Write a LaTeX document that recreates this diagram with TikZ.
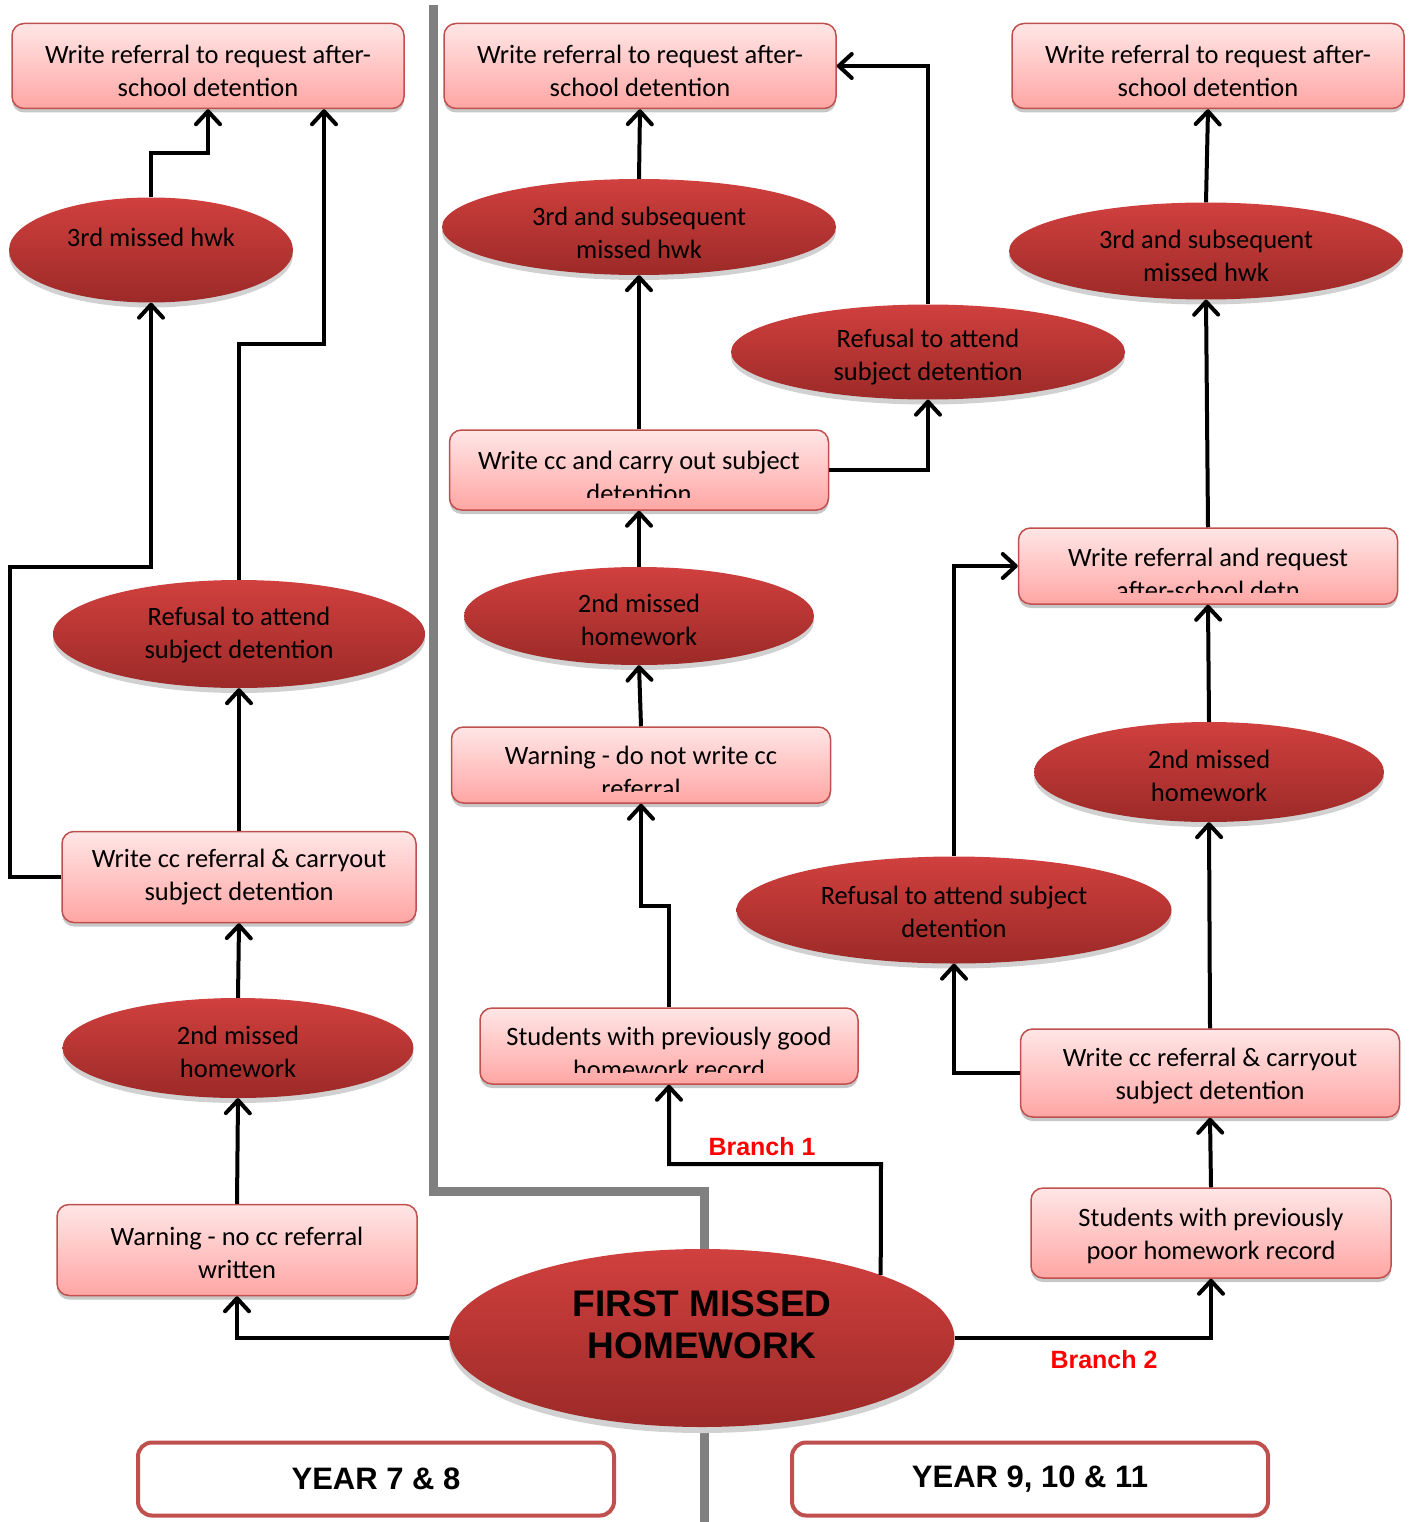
\documentclass[tikz,border=0pt]{standalone}
\usepackage{fontspec}
\setmainfont{Carlito}
\newfontfamily\arialfont{Liberation Sans}
\usetikzlibrary{arrows.meta,shadows,shapes.geometric}
\definecolor{boxtop}{HTML}{FFE6E6}
\definecolor{boxbot}{HTML}{FFA6A4}
\definecolor{boxline}{HTML}{C0504D}
\definecolor{elltop}{HTML}{D0403E}
\definecolor{ellbot}{HTML}{9C2A28}
\definecolor{divider}{HTML}{808080}
\begin{document}
\begin{tikzpicture}[x=1pt,y=-1pt,
  stepbox/.style={draw=boxline, line width=1.5pt, rounded corners=12pt,
    top color=boxtop, bottom color=boxbot, inner sep=0pt,
    drop shadow={shadow xshift=0pt, shadow yshift=-4pt, fill=black!22, opacity=1}},
  boxtext/.style={align=center, inner sep=0pt, font=\fontsize{26.5}{33}\selectfont},
  redell/.style={ellipse, draw=none, top color=elltop, bottom color=ellbot, inner sep=0pt,
    drop shadow={shadow xshift=0pt, shadow yshift=-5pt, fill=black!18, opacity=1}},
  bigtext/.style={align=center, inner sep=0pt, font=\arialfont\bfseries\fontsize{37}{42}\selectfont},
  yearbox/.style={draw=boxline, line width=4pt, rounded corners=14pt, fill=white,
    inner sep=0pt, font=\arialfont\bfseries\fontsize{31}{36}\selectfont},
  conn/.style={line width=4pt, -{Straight Barb[length=13pt,width=24pt,round]}},
  branch/.style={text=red, inner sep=0pt, font=\arialfont\bfseries\fontsize{25}{28}\selectfont}
]
\useasboundingbox (0,0) rectangle (1414,1522);

% divider
\draw[divider, line width=9pt] (433,5) -- (433,1191) -- (704,1191) -- (704,1522);

% ---------- left column ----------
\node[stepbox, minimum width=392, minimum height=85] (Ltop) at (208,66) {};
\node[boxtext] (Ltopt) at ([yshift=-4.5pt]Ltop.center) {Write referral to request after-\\school detention};
\node[redell, minimum width=284, minimum height=105] (Lthird) at (151,250) {};
\node[boxtext] (Lthirdt) at ([yshift=13pt]Lthird.center) {3rd missed hwk};
\node[redell, minimum width=372, minimum height=108] (Lref) at (239,634) {};
\node[boxtext] (Lreft) at ([yshift=-1pt]Lref.center) {Refusal to attend\\subject detention};
\node[stepbox, minimum width=354, minimum height=91] (Lcc) at (239,877) {};
\node[boxtext] (Lcct) at (Lcc.center) {Write cc referral \& carryout\\subject detention};
\node[redell, minimum width=351, minimum height=100] (Lsecond) at (238,1048) {};
\node[boxtext] (Lsecondt) at ([yshift=-3.5pt]Lsecond.center) {2nd missed\\homework};
\node[stepbox, minimum width=360, minimum height=91] (Lwarn) at (237,1250) {};
\node[boxtext] (Lwarnt) at ([yshift=-2.5pt]Lwarn.center) {Warning - no cc referral\\written};

% ---------- centre column ----------
\node[stepbox, minimum width=392, minimum height=85] (Ctop) at (640,66) {};
\node[boxtext] (Ctopt) at ([yshift=-4.5pt]Ctop.center) {Write referral to request after-\\school detention};
\node[redell, minimum width=394, minimum height=96] (Cthird) at (639,227) {};
\node[boxtext] (Cthirdt) at ([yshift=-5.5pt]Cthird.center) {3rd and subsequent\\missed hwk};
\node[redell, minimum width=394, minimum height=95] (Cref) at (928,352) {};
\node[boxtext] (Creft) at ([yshift=-5pt]Cref.center) {Refusal to attend\\subject detention};
\node[stepbox, minimum width=379, minimum height=80] (Ccc) at (639,470) {};
\begin{scope}
  \clip (Ccc.north west) rectangle ([yshift=13pt]Ccc.south east);
  \node[boxtext] (Ccct) at ([yshift=-7pt]Ccc.center) {Write cc and carry out subject\\detention};
\end{scope}
\node[redell, minimum width=350, minimum height=98] (Csecond) at (639,616) {};
\node[boxtext] (Csecondt) at ([yshift=-4pt]Csecond.center) {2nd missed\\homework};
\node[stepbox, minimum width=379, minimum height=76] (Cwarn) at (641,765) {};
\begin{scope}
  \clip (Cwarn.north west) rectangle ([yshift=12pt]Cwarn.south east);
  \node[boxtext] (Cwarnt) at ([yshift=-7pt]Cwarn.center) {Warning - do not write cc\\referral};
\end{scope}
\node[stepbox, minimum width=378, minimum height=76] (Cgood) at (669,1046) {};
\begin{scope}
  \clip (Cgood.north west) rectangle ([yshift=12pt]Cgood.south east);
  \node[boxtext] (Cgoodt) at ([yshift=-7pt]Cgood.center) {Students with previously good\\homework record};
\end{scope}

% ---------- right column ----------
\node[stepbox, minimum width=392, minimum height=85] (Rtop) at (1208,66) {};
\node[boxtext] (Rtopt) at ([yshift=-4.5pt]Rtop.center) {Write referral to request after-\\school detention};
\node[redell, minimum width=394, minimum height=97] (Rthird) at (1206,251) {};
\node[boxtext] (Rthirdt) at ([yshift=-5pt]Rthird.center) {3rd and subsequent\\missed hwk};
\node[stepbox, minimum width=379, minimum height=76] (Rdetn) at (1208,566) {};
\begin{scope}
  \clip (Rdetn.north west) rectangle ([yshift=12pt]Rdetn.south east);
  \node[boxtext] (Rdetnt) at ([yshift=-7.5pt]Rdetn.center) {Write referral and request\\after-school detn};
\end{scope}
\node[redell, minimum width=350, minimum height=100] (Rsecond) at (1209,772) {};
\node[boxtext] (Rsecondt) at ([yshift=-3.5pt]Rsecond.center) {2nd missed\\homework};
\node[redell, minimum width=435, minimum height=107] (Rref) at (954,910) {};
\node[boxtext] (Rreft) at ([yshift=-1.5pt]Rref.center) {Refusal to attend subject\\detention};
\node[stepbox, minimum width=379, minimum height=88] (Rcc) at (1210,1073) {};
\node[boxtext] (Rcct) at ([yshift=-3pt]Rcc.center) {Write cc referral \& carryout\\subject detention};
\node[stepbox, minimum width=360, minimum height=90] (Rpoor) at (1211,1233) {};
\node[boxtext] (Rpoort) at ([yshift=-2.5pt]Rpoor.center) {Students with previously\\poor homework record};

% ---------- centre ----------
\node[redell, minimum width=505, minimum height=178,
  drop shadow={shadow xshift=0pt, shadow yshift=-6pt, fill=black!18, opacity=1}] (FMH) at (702,1338) {};
\node[bigtext] (FMHt) at ([yshift=13pt]FMH.center) {FIRST MISSED\\HOMEWORK};

\node[yearbox, minimum width=476, minimum height=73] (Y78) at (376,1479) {YEAR 7 \& 8};
\node[yearbox, minimum width=476, minimum height=73] (Y911) at (1030,1479) {YEAR 9, 10 \& 11};

\node[branch] (B1) at (762,1147) {Branch 1};
\node[branch] (B2) at (1104,1360) {Branch 2};

% ---------- connectors: left ----------
\draw[conn] (FMH.west) -| (Lwarn.south);
\draw[conn] (Lwarn.north) -- (Lsecond.south);
\draw[conn] (Lsecond.north) -- (Lcc.south);
\draw[conn] (Lcc.north) -- (Lref.south);
\coordinate (a5) at (324,344);
\draw[conn] (Lref.north) |- (a5) -- (a5 |- Ltop.south);
\coordinate (a6) at (10,567);
\draw[conn] (Lcc.west) -| (a6) -| (Lthird.south);
\coordinate (a7) at (208,153);
\draw[conn] (Lthird.north) |- (a7) -- (Ltop.south);

% ---------- connectors: centre ----------
\coordinate (a8) at (881,1164);
\draw[conn] (FMH.north east) -- (a8) -| (Cgood.south);
\coordinate (a9) at (641,906);
\draw[conn] (Cgood.north) |- (a9) -- (Cwarn.south);
\draw[conn] (Cwarn.north) -- (Csecond.south);
\draw[conn] (Csecond.north) -- (Ccc.south);
\draw[conn] (Ccc.north) -- (Cthird.south);
\draw[conn] (Cthird.north) -- (Ctop.south);
\draw[conn] (Ccc.east) -| (Cref.south);
\draw[conn] (Cref.north) |- (Ctop.east);

% ---------- connectors: right ----------
\draw[conn] (FMH.east) -| (Rpoor.south);
\draw[conn] (Rpoor.north) -- (Rcc.south);
\draw[conn] (Rcc.north) -- (Rsecond.south);
\draw[conn] (Rsecond.north) -- (Rdetn.south);
\draw[conn] (Rdetn.north) -- (Rthird.south);
\draw[conn] (Rthird.north) -- (Rtop.south);
\draw[conn] (Rcc.west) -| (Rref.south);
\draw[conn] (Rref.north) |- (Rdetn.west);
\end{tikzpicture}
\end{document}
